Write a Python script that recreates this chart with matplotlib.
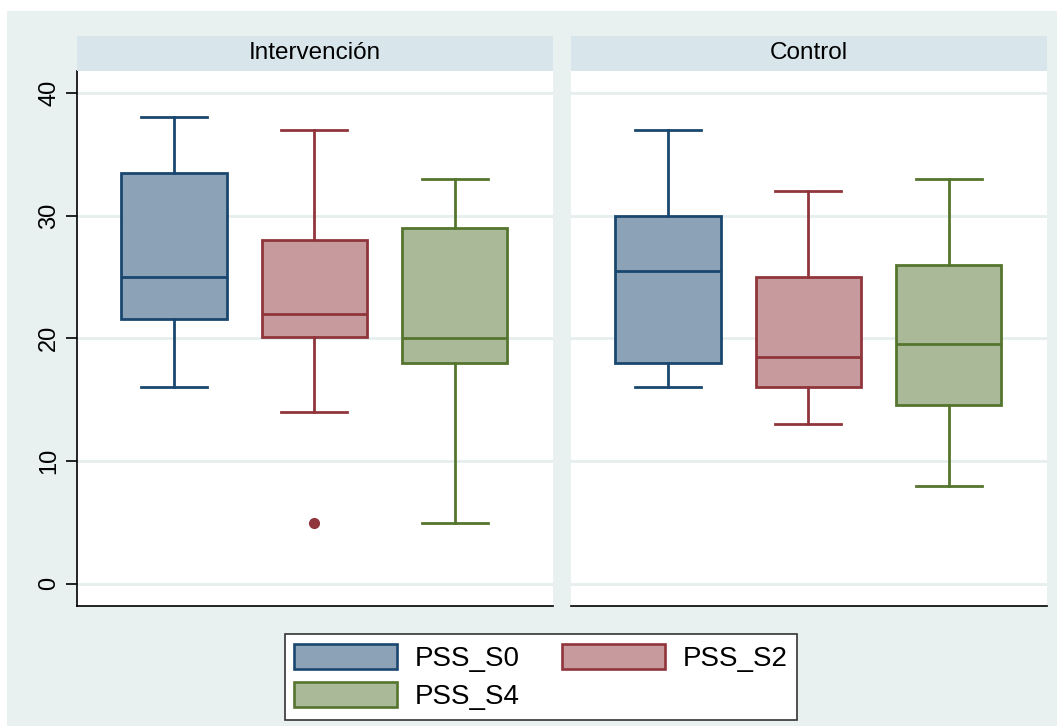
import numpy as np
import matplotlib
matplotlib.use("Agg")
from matplotlib import pyplot as plt
from matplotlib.patches import Patch, Rectangle

plt.rcParams['font.family'] = ['Liberation Sans', 'DejaVu Sans']

# five-number summaries read per group: S0, S2, S4
series = ['PSS_S0', 'PSS_S2', 'PSS_S4']
groups = ['Intervención', 'Control']

med_int = [25, 22, 20]
q1_int = [21.6, 20.1, 18]
q3_int = [33.5, 28, 29]
lo_int = [16, 14, 5]
hi_int = [38, 37, 33]
out_int = [[], [5], []]

med_ctl = [25.5, 18.5, 19.5]
q1_ctl = [18, 16, 14.6]
q3_ctl = [30, 25, 26]
lo_ctl = [16, 13, 8]
hi_ctl = [37, 32, 33]
out_ctl = [[], [], []]

edge = ['#1a476f', '#90353b', '#55752f']
fill = ['#8ca3b7', '#c79a9d', '#aab997']

W, H = 1057, 726
fig = plt.figure(figsize=(W / 100, H / 100), dpi=100, facecolor='white')

# light bluish graph region, kept behind the panels
fig.patches.append(Rectangle((7 / W, 0), 1 - 7 / W, (H - 11) / H,
                             transform=fig.transFigure, facecolor='#e8f0f0',
                             edgecolor='none', zorder=-10))


def box(px_left, px_right, top, bottom):
    return [px_left / W, (H - bottom) / H, (px_right - px_left) / W, (bottom - top) / H]


def panel(x0, x1, title, med, q1, q3, lo, hi, outs, yaxis):
    ax = fig.add_axes(box(x0, x1, 70.7, 606))
    ax.set_facecolor('white')
    stats = []
    for i in range(3):
        stats.append(dict(med=med[i], q1=q1[i], q3=q3[i], whislo=lo[i],
                          whishi=hi[i], fliers=outs[i]))
    bp = ax.bxp(stats, positions=[1, 2, 3], widths=0.75, capwidths=0.47,
                patch_artist=True, showfliers=True)
    for i in range(3):
        bp['boxes'][i].set(facecolor=fill[i], edgecolor=edge[i], linewidth=2)
        bp['medians'][i].set(color=edge[i], linewidth=2)
        for k in (2 * i, 2 * i + 1):
            bp['whiskers'][k].set(color=edge[i], linewidth=2)
            bp['caps'][k].set(color=edge[i], linewidth=2)
        bp['fliers'][i].set(marker='o', markerfacecolor=edge[i],
                            markeredgecolor=edge[i], markersize=7)
    ax.set_xlim(0.31, 3.7)
    ax.set_ylim(-1.8, 41.8)
    ax.set_yticks([0, 10, 20, 30, 40])
    ax.yaxis.grid(True, color='#e6eeee', linewidth=2)
    ax.set_axisbelow(True)
    ax.set_xticks([])
    for s in ('top', 'right'):
        ax.spines[s].set_visible(False)
    ax.spines['bottom'].set_linewidth(1.2)
    if yaxis:
        ax.spines['left'].set_linewidth(1.2)
        ax.tick_params(axis='y', direction='out', length=8, width=1.2,
                       labelsize=17, pad=4)
        for lab in ax.get_yticklabels():
            lab.set_rotation(90)
            lab.set_va('center')
    else:
        ax.spines['left'].set_visible(False)
        ax.tick_params(axis='y', length=0, labelleft=False)

    strip = fig.add_axes(box(x0, x1, 36, 70.7))
    strip.set_facecolor('#d8e5ea')
    strip.set_xticks([])
    strip.set_yticks([])
    for s in strip.spines.values():
        s.set_visible(False)
    strip.text(0.5, 0.5, title, ha='center', va='center', fontsize=17.5,
               transform=strip.transAxes)
    return ax


panel(77, 553, groups[0], med_int, q1_int, q3_int, lo_int, hi_int, out_int, True)
panel(571, 1047, groups[1], med_ctl, q1_ctl, q3_ctl, lo_ctl, hi_ctl, out_ctl, False)

handles = [Patch(facecolor=fill[i], edgecolor=edge[i], linewidth=1.9, label=series[i])
           for i in range(3)]
order = [0, 2, 1]
leg = fig.legend([handles[i] for i in order], [series[i] for i in order],
                 ncol=2, loc='center', bbox_to_anchor=(541 / W, (H - 677) / H),
                 fontsize=20, handlelength=3.7, handleheight=1.0,
                 handletextpad=0.65, columnspacing=1.5, labelspacing=0.35,
                 borderpad=0.35, fancybox=False, framealpha=1)
leg.get_frame().set_edgecolor('#333333')
leg.get_frame().set_linewidth(1.2)

fig.savefig('out.png', dpi=100, facecolor='white')
